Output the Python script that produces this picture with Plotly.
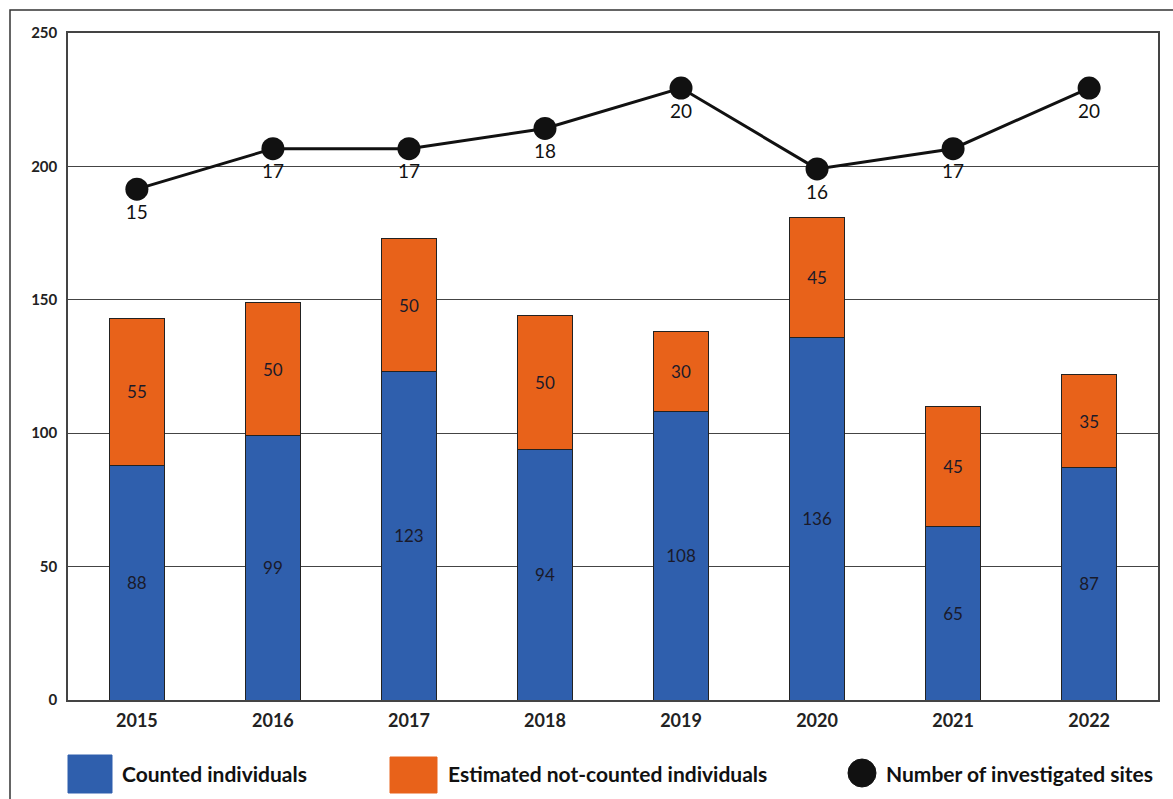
import plotly.graph_objects as go

years = ["2015", "2016", "2017", "2018", "2019", "2020", "2021", "2022"]
counted = [88, 99, 123, 94, 108, 136, 65, 87]
estimated = [55, 50, 50, 50, 30, 45, 45, 35]
sites = [15, 17, 17, 18, 20, 16, 17, 20]
y_ticks = [0, 50, 100, 150, 200, 250]

BLUE = "#2F5FAD"
ORANGE = "#E8621A"
FONT = "Lato"

W, H = 1173, 799
L, R, T, B = 68, 1158, 33, 700

def px(x):
    return (x - L) / (R - L)

def py(y):
    return (B - y) / (B - T)

fig = go.Figure()
fig.add_trace(go.Bar(
    x=years, y=counted, name="Counted individuals",
    marker=dict(color=BLUE, line=dict(color="#222222", width=1)),
    text=counted, textposition="inside", insidetextanchor="middle",
    textangle=0, constraintext="none",
    textfont=dict(family=FONT, size=17, color="#1a1a2a"),
    width=0.4,
))
fig.add_trace(go.Bar(
    x=years, y=estimated, name="Estimated not-counted individuals",
    marker=dict(color=ORANGE, line=dict(color="#222222", width=1)),
    text=estimated, textposition="inside", insidetextanchor="middle",
    textangle=0, constraintext="none",
    textfont=dict(family=FONT, size=17, color="#1a1a2a"),
    width=0.4,
))
fig.add_trace(go.Scatter(
    x=years, y=sites, name="Number of investigated sites", yaxis="y2",
    mode="lines+markers+text",
    line=dict(color="#111111", width=3),
    marker=dict(color="#111111", size=23),
    text=sites, textposition="bottom center",
    textfont=dict(family=FONT, size=19, color="#111111"),
    cliponaxis=False,
))

fig.update_layout(
    width=W, height=H,
    margin=dict(l=L, r=W - R, t=T, b=H - B),
    barmode="stack",
    bargap=0.6,
    showlegend=False,
    plot_bgcolor="white", paper_bgcolor="white",
    font=dict(family=FONT, color="#222222"),
    xaxis=dict(
        showline=True, linecolor="#444444", linewidth=1.5, mirror=True,
        tickfont=dict(family=FONT, size=18, color="#222222", weight="bold"),
        ticks="", showgrid=False, ticklabelstandoff=4,
    ),
    yaxis=dict(
        range=[0, 250], tickvals=y_ticks,
        showline=True, linecolor="#444444", linewidth=1.5, mirror=True,
        showgrid=True, gridcolor="#444444", gridwidth=1,
        tickfont=dict(family=FONT, size=15, color="#222222", weight="bold"),
        ticks="", ticklabelstandoff=6, zeroline=False,
    ),
    yaxis2=dict(
        overlaying="y", side="right", range=[-10.26, 22.72],
        showticklabels=False, showgrid=False, zeroline=False, showline=False,
    ),
)

# outer frame
fig.add_shape(type="rect", xref="paper", yref="paper",
              x0=px(10), x1=px(1190), y0=py(820), y1=py(10),
              line=dict(color="#333333", width=1.5), layer="below")

# custom legend
legend_items = [
    (68, 112, 755, 793, BLUE, "square", 120, "Counted individuals"),
    (390, 437, 757, 793, ORANGE, "square", 446, "Estimated not-counted individuals"),
    (848, 876, 759, 787, "#111111", "circle", 884, "Number of investigated sites"),
]
for x0, x1, y0, y1, col, kind, tx, label in legend_items:
    fig.add_shape(type="rect" if kind == "square" else "circle",
                  xref="paper", yref="paper",
                  x0=px(x0), x1=px(x1), y0=py(y1), y1=py(y0),
                  fillcolor=col, line=dict(color=col, width=1))
    fig.add_annotation(xref="paper", yref="paper", x=px(tx), y=py(774),
                       text=label, showarrow=False, xanchor="left", yanchor="middle",
                       font=dict(family=FONT, size=21, color="#111111", weight="bold"))

fig.write_html("out.html")
